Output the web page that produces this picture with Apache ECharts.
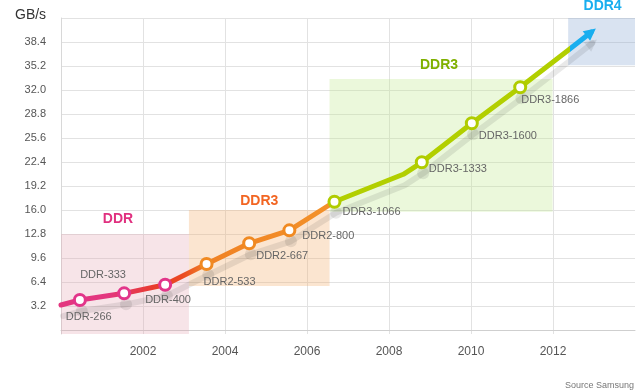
<!DOCTYPE html>
<html><head><meta charset="utf-8">
<script src="https://cdn.jsdelivr.net/npm/echarts@6/dist/echarts.min.js"></script>
<style>html,body{margin:0;padding:0;background:#fff}#c{width:636px;height:392px}</style>
</head><body><div id="c"></div>
<script>
// ---- data ----
const years      = [2000, 2000.46, 2001.54, 2002.54, 2003.55, 2004.59, 2005.57, 2006.67, 2008.35, 2008.80, 2010.02, 2011.20, 2012.37, 2012.93];
const bandwidth  = [3.33, 4.0, 4.89, 6.04, 8.8, 11.56, 13.29, 17.1, 20.76, 22.36, 27.56, 32.36, 37.3, 39.7];
const pointLabels = ['', 'DDR-266', 'DDR-333', 'DDR-400', 'DDR2-533', 'DDR2-667', 'DDR2-800', 'DDR3-1066', '', 'DDR3-1333', 'DDR3-1600', 'DDR3-1866', '', ''];
const pointEra   = [0, 0, 0, 0, 1, 1, 1, 2, 2, 2, 2, 2, 3, 3];
const eraNames   = ['DDR', 'DDR3', 'DDR3', 'DDR4'];
const eraStart   = [2000, 2003.12, 2006.55, 2012.37];
const eraEnd     = [2003.12, 2006.55, 2011.99, 2014];
const eraTop     = [12.8, 16.0, 33.47, 41.6];
const eraBottom  = [-0.533, 5.87, 15.78, 35.3];
const yTickLabels = [3.2, 6.4, 9.6, 12.8, 16.0, 19.2, 22.4, 25.6, 28.8, 32.0, 35.2, 38.4];
const yGridLines  = [3.2, 6.4, 9.6, 12.8, 16.0, 19.2, 22.4, 25.6, 28.8, 32.0, 35.2, 38.4, 41.6];
const xRange = [2000, 2014];
const yRange = [-0.533, 41.6];

// ---- styles ----
const FONT = '"Liberation Sans", Arial, Helvetica, sans-serif';
const eraMarkerColor = ['#e2358a', '#f08a22', '#b0cc00', '#19aeef'];
const eraLabelColor  = ['#e0307f', '#f26522', '#7fb000', '#19aeef'];
const eraFill = ['rgba(225,158,172,0.28)', 'rgba(242,168,98,0.3)', 'rgba(188,232,135,0.3)', 'rgba(128,162,208,0.3)'];
const eraLabelDist = [8, 2, 7, 5];
const eraLabelDx = [-7, 0, -2, 1];
const labelOffsets = [null, [-14, 17], [-44, -18], [-20, 15], [-3, 18], [7, 13], [13, 6], [8, 10], null, [7, 7], [7, 13], [1, 13], null, null];
const SHADOW_DX = 2, SHADOW_DY = 11;
const shadowColor = 'rgba(0,0,0,0.085)';
const GRID = {left: 61, top: 18, right: 1, bottom: 58};

const lastYear = years[years.length - 1];
const frac = y => Math.max(0, Math.min(1, (y - years[0]) / (lastYear - years[0])));
const gradStops = [
  [years[0], '#e3367f'], [2001.2, '#e3367f'], [2002.3, '#e83a2c'], [2003.0, '#eb4a22'],
  [years[4], '#f08224'], [years[7] - 0.01, '#f3922a'], [years[7], '#b2cf00'],
  [years[12] - 0.01, '#b2cf00'], [years[12], '#19aeef'], [lastYear, '#19aeef']
];
const lineGradient = new echarts.graphic.LinearGradient(0, 0, 1, 0,
  gradStops.map(s => ({offset: frac(s[0]), color: s[1]})));

const lastIdx = years.length - 1;
const lineData = years.map((x, i) => {
  const item = {value: [x, bandwidth[i]], name: pointLabels[i]};
  if (pointLabels[i]) {
    item.symbol = 'circle';
    item.symbolSize = 11;
    item.itemStyle = {color: '#fff', borderColor: eraMarkerColor[pointEra[i]], borderWidth: 3};
    item.label = {show: true, position: 'inside', align: 'left', verticalAlign: 'middle',
      offset: labelOffsets[i], formatter: pointLabels[i], color: '#666', fontSize: 11, fontFamily: FONT};
  } else if (i === lastIdx) {
    item.symbol = 'triangle';
    item.symbolSize = [12, 12];
    item.symbolRotate = -52;
    item.itemStyle = {color: eraMarkerColor[3], borderWidth: 0};
  } else {
    item.symbol = 'none';
  }
  return item;
});

const shadowData = years.map((x, i) => {
  const item = {value: [x, bandwidth[i]]};
  if (pointLabels[i]) {
    item.symbol = 'circle'; item.symbolSize = 12;
  } else if (i === lastIdx) {
    item.symbol = 'triangle'; item.symbolSize = [12, 12]; item.symbolRotate = -52;
  } else {
    item.symbol = 'none';
  }
  item.itemStyle = {color: shadowColor, borderWidth: 0};
  return item;
});

const areaData = eraNames.map((n, i) => [
  {name: n, coord: [eraStart[i], eraTop[i]], itemStyle: {color: eraFill[i]},
   label: {show: true, position: 'top', distance: eraLabelDist[i], offset: [eraLabelDx[i], 0],
     color: eraLabelColor[i], fontSize: 14, fontWeight: 'bold', fontFamily: FONT}},
  {coord: [eraEnd[i], eraBottom[i]]}
]);

const chart = echarts.init(document.getElementById('c'), null, {renderer: 'canvas'});
chart.setOption({
  animation: false,
  backgroundColor: '#fff',
  title: [
    {text: 'GB/s', left: 15, top: 8, padding: 0, textStyle: {fontSize: 14, fontWeight: 'normal', color: '#333', fontFamily: FONT}},
    {text: 'Source Samsung', right: 2, top: 381, padding: 0, textStyle: {fontSize: 9, fontWeight: 'normal', color: '#777', fontFamily: FONT}}
  ],
  grid: [
    Object.assign({containLabel: false}, GRID),
    {left: GRID.left + SHADOW_DX, top: GRID.top + SHADOW_DY, right: GRID.right - SHADOW_DX, bottom: GRID.bottom - SHADOW_DY, containLabel: false}
  ],
  xAxis: [{
    type: 'value', min: xRange[0], max: xRange[1], interval: 2, gridIndex: 0,
    axisLine: {show: true, lineStyle: {color: '#cfcfcf', width: 1}},
    axisTick: {show: false},
    axisLabel: {showMinLabel: false, showMaxLabel: false, margin: 12, color: '#555', fontSize: 12, fontFamily: FONT,
      formatter: v => String(v)},
    splitLine: {show: true, showMinLine: false, showMaxLine: false, lineStyle: {color: '#e2e2e2', width: 1}}
  }, {
    type: 'value', min: xRange[0], max: xRange[1], interval: 2, gridIndex: 1, show: false
  }],
  yAxis: [{
    type: 'value', min: yRange[0], max: yRange[1], gridIndex: 0,
    axisLine: {show: true, lineStyle: {color: '#d8d8d8', width: 1}},
    axisTick: {show: false, customValues: yGridLines},
    axisLabel: {customValues: yTickLabels, formatter: v => v.toFixed(1), margin: 15, color: '#555', fontSize: 11, fontFamily: FONT},
    splitLine: {show: true, lineStyle: {color: '#e2e2e2', width: 1}}
  }, {
    type: 'value', min: yRange[0], max: yRange[1], gridIndex: 1, show: false
  }],
  series: [
    {type: 'line', z: 1, data: [], silent: true, xAxisIndex: 0, yAxisIndex: 0,
     markArea: {silent: true, data: areaData}},
    {type: 'line', z: 2, data: shadowData, xAxisIndex: 1, yAxisIndex: 1, clip: false,
     silent: true, emphasis: {disabled: true}, showAllSymbol: true,
     lineStyle: {width: 6, color: shadowColor, cap: 'round', join: 'round'}},
    {type: 'line', z: 3, data: lineData, xAxisIndex: 0, yAxisIndex: 0, showSymbol: true, showAllSymbol: true,
     silent: true, emphasis: {disabled: true},
     lineStyle: {width: 5, color: lineGradient, cap: 'round', join: 'round'}}
  ]
});
</script>
</body></html>
